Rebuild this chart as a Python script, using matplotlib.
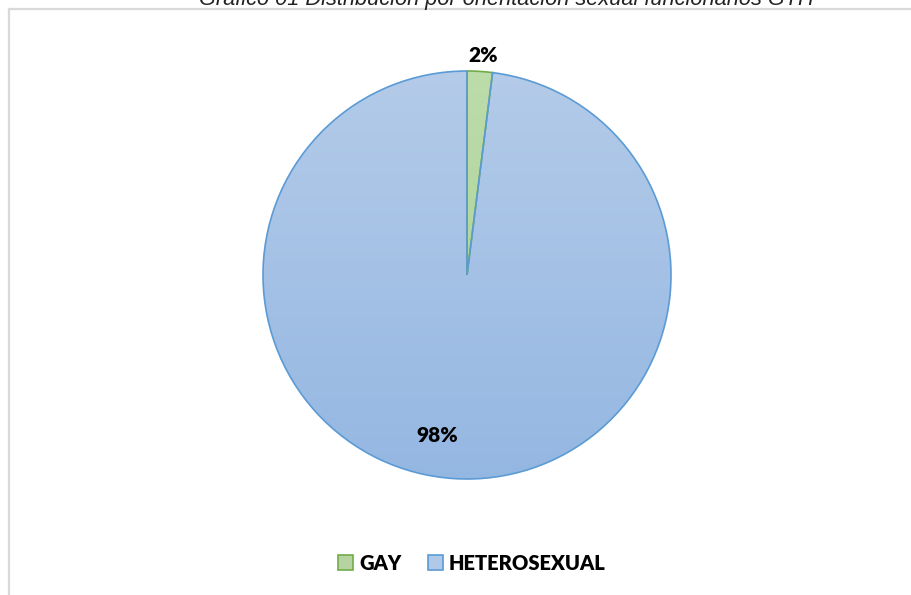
import numpy as np
import matplotlib
matplotlib.use("Agg")
import matplotlib.pyplot as plt
from matplotlib.patches import Patch
from matplotlib.lines import Line2D

categories = ["GAY", "HETEROSEXUAL"]
values = [2, 98]
labels = ["2%", "98%"]
title = "Gráfico 01 Distribución por orientación sexual funcionarios GTH"

W, H = 912, 595
fig = plt.figure(figsize=(W / 100, H / 100), dpi=100)
fig.patch.set_facecolor("white")

# outer frame lines
fig.add_artist(Line2D([9 / W, 9 / W], [0, 1 - 9 / H], color="#d9d9d9", lw=1.6))
fig.add_artist(Line2D([9 / W, 1], [1 - 9 / H, 1 - 9 / H], color="#d9d9d9", lw=1.6))

fig.text(506 / W, 1 - 4.5 / H, title, ha="center", va="baseline",
         fontsize=15.7, fontstyle="italic", family="Liberation Sans", color="#222222")

cx, cy, r = 467, 275, 204
size = 2 * r + 4
ax = fig.add_axes([(cx - size / 2) / W, 1 - (cy + size / 2) / H, size / W, size / H])
ax.set_aspect("equal")
ax.axis("off")

wedges, _ = ax.pie(values, startangle=90, counterclock=False, radius=1,
                   colors=["#b5d4a2", "#b1c9e8"],
                   wedgeprops=dict(linewidth=1.2))
edge_cols = ["#70ad47", "#5b9bd5"]
grads = [("#bcdcaa", "#a9cf93"), ("#b4cbe9", "#94b7e2")]
for w, ec, (c1, c2) in zip(wedges, edge_cols, grads):
    w.set_edgecolor(ec)
    c1 = np.array(matplotlib.colors.to_rgb(c1))
    c2 = np.array(matplotlib.colors.to_rgb(c2))
    t = np.linspace(0, 1, 256)[:, None]
    img = c1 * (1 - t[..., None]) + c2 * t[..., None]
    img = np.repeat(img, 2, axis=1)
    im = ax.imshow(img, extent=[-1, 1, -1, 1], origin="upper", zorder=w.get_zorder() - 0.1,
                   interpolation="bilinear", aspect="auto")
    im.set_clip_path(w)
    w.set_facecolor("none")
ax.set_xlim(-size / 2 / r, size / 2 / r)
ax.set_ylim(-size / 2 / r, size / 2 / r)

lf = "Lato"
# data labels
ax.text((483 - cx) / r, (cy - 55) / r, labels[0], ha="center", va="center",
        fontsize=15, fontweight="heavy", family=lf)
ax.text((437 - cx) / r, (cy - 435) / r, labels[1], ha="center", va="center",
        fontsize=15, fontweight="heavy", family=lf)

handles = [Patch(facecolor="#b5d4a2", edgecolor="#70ad47", lw=1.2),
           Patch(facecolor="#b1c9e8", edgecolor="#5b9bd5", lw=1.2)]
leg = fig.legend(handles, categories, loc="center", bbox_to_anchor=(472 / W, 1 - 563 / H),
                 ncol=2, frameon=False, handlelength=0.75, handleheight=0.75,
                 handletextpad=0.3, columnspacing=1.3,
                 prop=dict(family=lf, weight="heavy", size=14.5))

fig.savefig("out.png", dpi=100)
